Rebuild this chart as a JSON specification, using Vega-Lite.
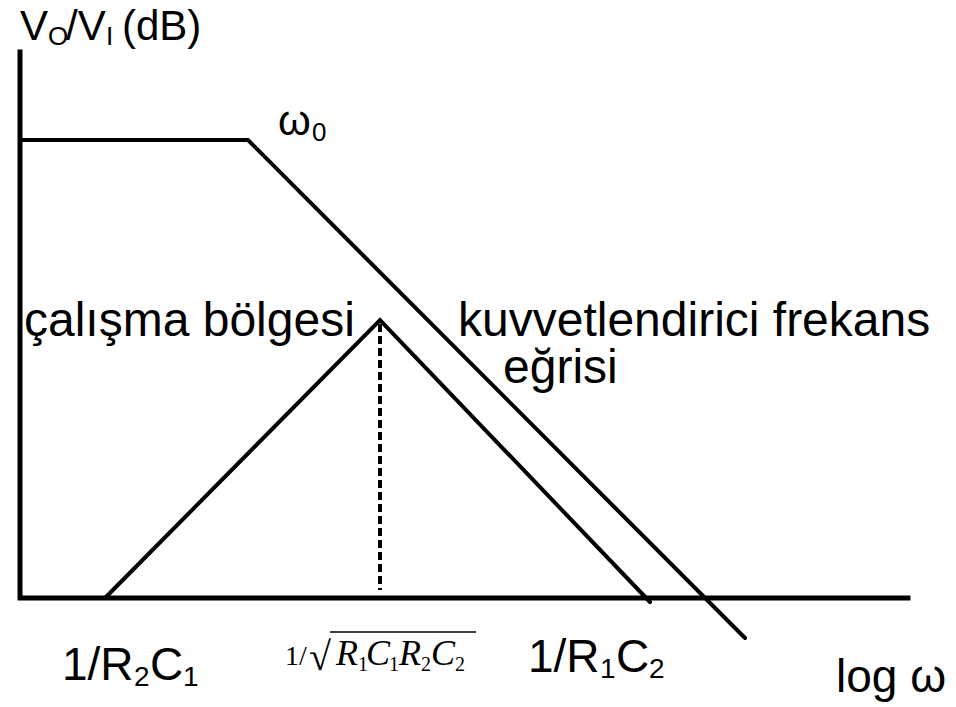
{
  "$schema": "https://vega.github.io/schema/vega-lite/v6.json",
  "width": 956,
  "height": 707,
  "autosize": {"type": "fit", "contains": "padding"},
  "padding": 0,
  "background": "white",
  "config": {"view": {"stroke": null}},
  "datasets": {
    "axes": [
      {"s": "axes", "o": 1, "x": 0, "y": 546},
      {"s": "axes", "o": 2, "x": 0, "y": 0},
      {"s": "axes", "o": 3, "x": 888, "y": 0}
    ],
    "curves": [
      {"s": "amp", "o": 1, "x": 0, "y": 458},
      {"s": "amp", "o": 2, "x": 228, "y": 458},
      {"s": "amp", "o": 3, "x": 725, "y": -40},
      {"s": "tri", "o": 1, "x": 85, "y": 0},
      {"s": "tri", "o": 2, "x": 360, "y": 278},
      {"s": "tri", "o": 3, "x": 630, "y": -4}
    ],
    "dash": [{"x": 360, "y": 274, "y2": 8}],
    "bar": [{"x": 310, "x2": 456, "y": -34}],
    "titleText": [
      {"t": "V", "x": 0, "y": 558},
      {"t": "/V", "x": 46, "y": 558},
      {"t": "(dB)", "x": 102, "y": 558},
      {"t": "ω", "x": 258, "y": 463}
    ],
    "titleSub": [
      {"t": "O", "x": 28, "y": 553},
      {"t": "I", "x": 86, "y": 553},
      {"t": "0", "x": 292, "y": 457}
    ],
    "labelText": [
      {"t": "1/R", "x": 42, "y": -82},
      {"t": "C", "x": 130, "y": -82},
      {"t": "1/R", "x": 508, "y": -74},
      {"t": "C", "x": 596, "y": -74},
      {"t": "log ω", "x": 816, "y": -94}
    ],
    "labelSub": [
      {"t": "2", "x": 114, "y": -88},
      {"t": "1", "x": 163, "y": -88},
      {"t": "1", "x": 580, "y": -80},
      {"t": "2", "x": 629, "y": -80}
    ],
    "bigText": [
      {"t": "çalışma bölgesi", "x": 4, "y": 262},
      {"t": "kuvvetlendirici frekans", "x": 438, "y": 262},
      {"t": "eğrisi", "x": 483, "y": 215}
    ],
    "serifText": [
      {"t": "1/", "x": 265, "y": -67}
    ],
    "sqrtText": [
      {"t": "√", "x": 289, "y": -72}
    ],
    "italText": [
      {"t": "R", "x": 316, "y": -67},
      {"t": "C", "x": 346, "y": -67},
      {"t": "R", "x": 379, "y": -67},
      {"t": "C", "x": 411, "y": -67}
    ],
    "italSub": [
      {"t": "1", "x": 338, "y": -73},
      {"t": "1", "x": 369, "y": -73},
      {"t": "2", "x": 401, "y": -73},
      {"t": "2", "x": 435, "y": -73}
    ]
  },
  "layer": [
    {
      "data": {"name": "axes"},
      "mark": {"type": "line", "color": "black", "strokeWidth": 5, "strokeJoin": "miter", "strokeCap": "square"},
      "encoding": {
        "x": {"field": "x", "type": "quantitative", "scale": {"domain": [-20, 936], "nice": false, "zero": false}, "axis": null},
        "y": {"field": "y", "type": "quantitative", "scale": {"domain": [-109, 598], "nice": false, "zero": false}, "axis": null},
        "detail": {"field": "s"},
        "order": {"field": "o"}
      }
    },
    {
      "data": {"name": "curves"},
      "mark": {"type": "line", "color": "black", "strokeWidth": 4, "strokeJoin": "miter", "strokeCap": "round"},
      "encoding": {
        "x": {"field": "x", "type": "quantitative"},
        "y": {"field": "y", "type": "quantitative"},
        "detail": {"field": "s"},
        "order": {"field": "o"}
      }
    },
    {
      "data": {"name": "dash"},
      "mark": {"type": "rule", "color": "black", "strokeWidth": 4, "strokeDash": [8, 4]},
      "encoding": {
        "x": {"field": "x", "type": "quantitative"},
        "y": {"field": "y", "type": "quantitative"},
        "y2": {"field": "y2"}
      }
    },
    {
      "data": {"name": "bar"},
      "mark": {"type": "rule", "color": "black", "strokeWidth": 1.5},
      "encoding": {
        "x": {"field": "x", "type": "quantitative"},
        "x2": {"field": "x2"},
        "y": {"field": "y", "type": "quantitative"}
      }
    },
    {
      "data": {"name": "titleText"},
      "mark": {"type": "text", "font": "Liberation Sans", "fontSize": 42, "align": "left", "baseline": "alphabetic", "color": "black"},
      "encoding": {
        "x": {"field": "x", "type": "quantitative"},
        "y": {"field": "y", "type": "quantitative"},
        "text": {"field": "t"}
      }
    },
    {
      "data": {"name": "titleSub"},
      "mark": {"type": "text", "font": "Liberation Sans", "fontSize": 26, "align": "left", "baseline": "alphabetic", "color": "black"},
      "encoding": {
        "x": {"field": "x", "type": "quantitative"},
        "y": {"field": "y", "type": "quantitative"},
        "text": {"field": "t"}
      }
    },
    {
      "data": {"name": "labelText"},
      "mark": {"type": "text", "font": "Liberation Sans", "fontSize": 46, "align": "left", "baseline": "alphabetic", "color": "black"},
      "encoding": {
        "x": {"field": "x", "type": "quantitative"},
        "y": {"field": "y", "type": "quantitative"},
        "text": {"field": "t"}
      }
    },
    {
      "data": {"name": "labelSub"},
      "mark": {"type": "text", "font": "Liberation Sans", "fontSize": 28, "align": "left", "baseline": "alphabetic", "color": "black"},
      "encoding": {
        "x": {"field": "x", "type": "quantitative"},
        "y": {"field": "y", "type": "quantitative"},
        "text": {"field": "t"}
      }
    },
    {
      "data": {"name": "bigText"},
      "mark": {"type": "text", "font": "Liberation Sans", "fontSize": 48, "align": "left", "baseline": "alphabetic", "color": "black"},
      "encoding": {
        "x": {"field": "x", "type": "quantitative"},
        "y": {"field": "y", "type": "quantitative"},
        "text": {"field": "t"}
      }
    },
    {
      "data": {"name": "serifText"},
      "mark": {"type": "text", "font": "Liberation Serif", "fontSize": 28, "align": "left", "baseline": "alphabetic", "color": "black"},
      "encoding": {
        "x": {"field": "x", "type": "quantitative"},
        "y": {"field": "y", "type": "quantitative"},
        "text": {"field": "t"}
      }
    },
    {
      "data": {"name": "sqrtText"},
      "mark": {"type": "text", "font": "Liberation Serif", "fontSize": 40, "fontWeight": "bold", "align": "left", "baseline": "alphabetic", "color": "black"},
      "encoding": {
        "x": {"field": "x", "type": "quantitative"},
        "y": {"field": "y", "type": "quantitative"},
        "text": {"field": "t"}
      }
    },
    {
      "data": {"name": "italText"},
      "mark": {"type": "text", "font": "Liberation Serif", "fontSize": 36, "fontStyle": "italic", "align": "left", "baseline": "alphabetic", "color": "black"},
      "encoding": {
        "x": {"field": "x", "type": "quantitative"},
        "y": {"field": "y", "type": "quantitative"},
        "text": {"field": "t"}
      }
    },
    {
      "data": {"name": "italSub"},
      "mark": {"type": "text", "font": "Liberation Serif", "fontSize": 20, "align": "left", "baseline": "alphabetic", "color": "black"},
      "encoding": {
        "x": {"field": "x", "type": "quantitative"},
        "y": {"field": "y", "type": "quantitative"},
        "text": {"field": "t"}
      }
    }
  ]
}
